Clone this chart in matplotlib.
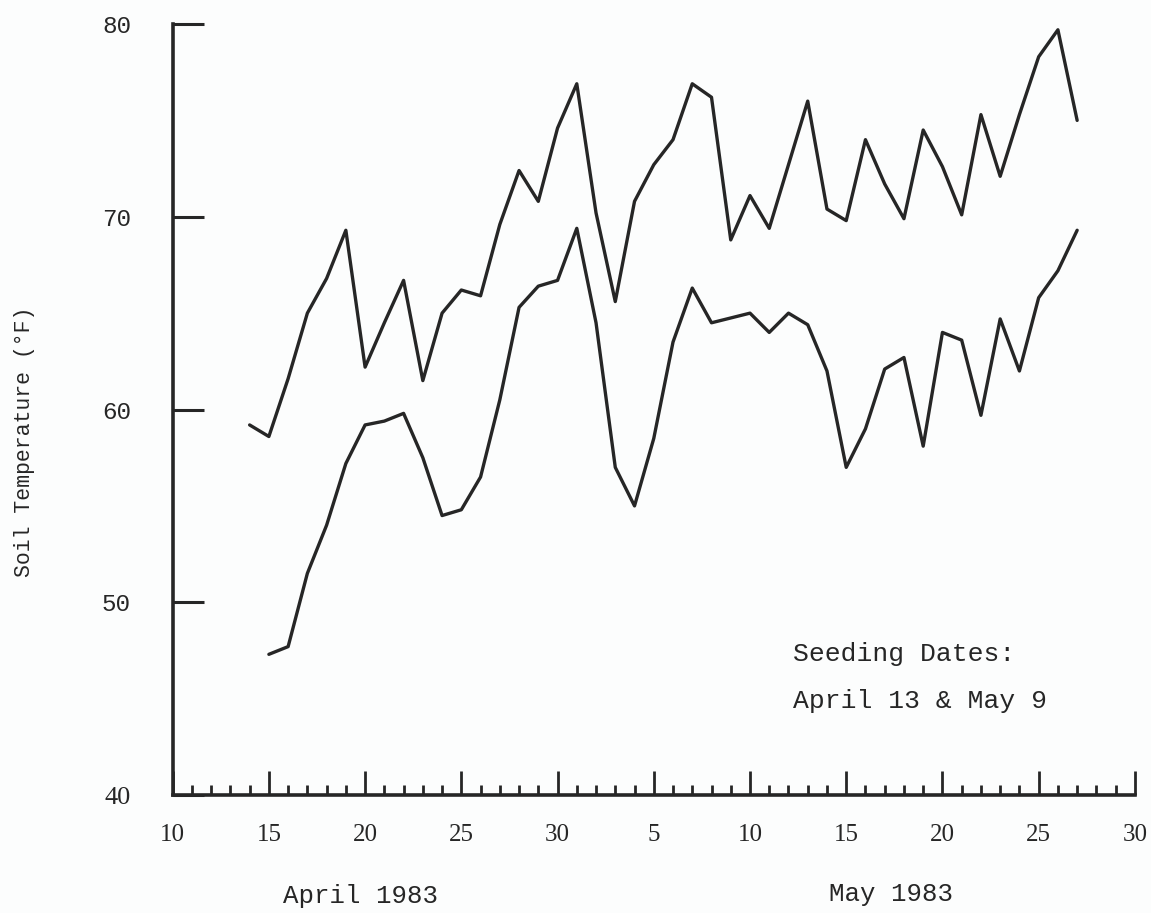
# soil temperature, April-May 1983
import matplotlib
matplotlib.use("Agg")
import matplotlib.pyplot as plt
import matplotlib.dates as mdates
import pandas as pd

# daily soil temperatures (deg F)
upper_start = "1983-04-14"
upper_temp = [59.2, 58.6, 61.6, 65.0, 66.8, 69.3, 62.2, 64.5, 66.7, 61.5,
              65.0, 66.2, 65.9, 69.6, 72.4, 70.8, 74.6, 76.9, 70.2, 65.6,
              70.8, 72.7, 74.0, 76.9, 76.2, 68.8, 71.1, 69.4, 72.7, 76.0,
              70.4, 69.8, 74.0, 71.7, 69.9, 74.5, 72.6, 70.1, 75.3, 72.1,
              75.3, 78.3, 79.7, 75.0]
lower_start = "1983-04-15"
lower_temp = [47.3, 47.7, 51.5, 54.0, 57.2, 59.2, 59.4, 59.8, 57.5, 54.5,
              54.8, 56.5, 60.5, 65.3, 66.4, 66.7, 69.4, 64.5, 57.0, 55.0,
              58.5, 63.5, 66.3, 64.5, 64.75, 65.0, 64.0, 65.0, 64.4, 62.0,
              57.0, 59.0, 62.1, 62.7, 58.1, 64.0, 63.6, 59.7, 64.7, 62.0,
              65.8, 67.2, 69.3]
y_ticks = [40, 50, 60, 70, 80]
month_labels = ["April 1983", "May 1983"]
note_lines = ["Seeding Dates:", "April 13 & May 9"]

upper = pd.Series(upper_temp, index=pd.date_range(upper_start, periods=len(upper_temp), freq="D"))
lower = pd.Series(lower_temp, index=pd.date_range(lower_start, periods=len(lower_temp), freq="D"))

ink = "#262626"
mono = "Liberation Mono"
serif = "Liberation Serif"

fig = plt.figure(figsize=(11.51, 9.13), dpi=100)
fig.patch.set_facecolor("#fcfdfd")
ax = fig.add_axes([0.150, 0.1292, 0.836, 0.8445])
ax.set_facecolor("none")

for s in (upper, lower):
    ax.plot(s.index, s.values, color=ink, lw=2.4, solid_joinstyle="round", solid_capstyle="round")

ax.set_xlim(pd.Timestamp("1983-04-10"), pd.Timestamp("1983-05-30"))
ax.set_ylim(40, 80)

for side in ("top", "right"):
    ax.spines[side].set_visible(False)
for side in ("left", "bottom"):
    ax.spines[side].set_linewidth(2.6)
    ax.spines[side].set_color(ink)
    ax.spines[side].set_capstyle("projecting")

ax.xaxis.set_major_locator(mdates.DayLocator(bymonthday=[5, 10, 15, 20, 25, 30]))
ax.xaxis.set_major_formatter(mdates.DateFormatter("%-d"))
ax.xaxis.set_minor_locator(mdates.DayLocator())
ax.tick_params(axis="x", which="major", direction="in", length=17, width=2.0,
               color=ink, pad=21, labelsize=18, labelcolor=ink)
ax.tick_params(axis="x", which="minor", direction="in", length=7.5, width=2.0, color=ink)
for lab in ax.get_xticklabels():
    lab.set_fontfamily(serif)

ax.set_yticks(y_ticks)
ax.tick_params(axis="y", direction="in", length=22, width=2.2, color=ink,
               pad=30, labelsize=17.5, labelcolor=ink)
for lab in ax.get_yticklabels():
    lab.set_fontfamily(mono)
ax.get_yticklabels()[0].set_fontfamily(serif)
ax.get_yticklabels()[0].set_fontsize(19)

fig.text(0.0217, 0.516, "Soil Temperature (°F)", rotation=90, fontfamily=mono,
         fontsize=15.5, color=ink, ha="center", va="center")

fig.text(0.313, 0.0185, month_labels[0], fontfamily=mono, fontsize=18.5, color=ink, ha="center", va="center")
fig.text(0.774, 0.0205, month_labels[1], fontfamily=mono, fontsize=18.5, color=ink, ha="center", va="center")

fig.text(0.689, 0.2837, note_lines[0], fontfamily=mono, fontsize=19, color=ink, ha="left", va="center")
fig.text(0.689, 0.2322, note_lines[1], fontfamily=mono, fontsize=19, color=ink, ha="left", va="center")

fig.savefig("out.png", dpi=100, facecolor=fig.get_facecolor())
